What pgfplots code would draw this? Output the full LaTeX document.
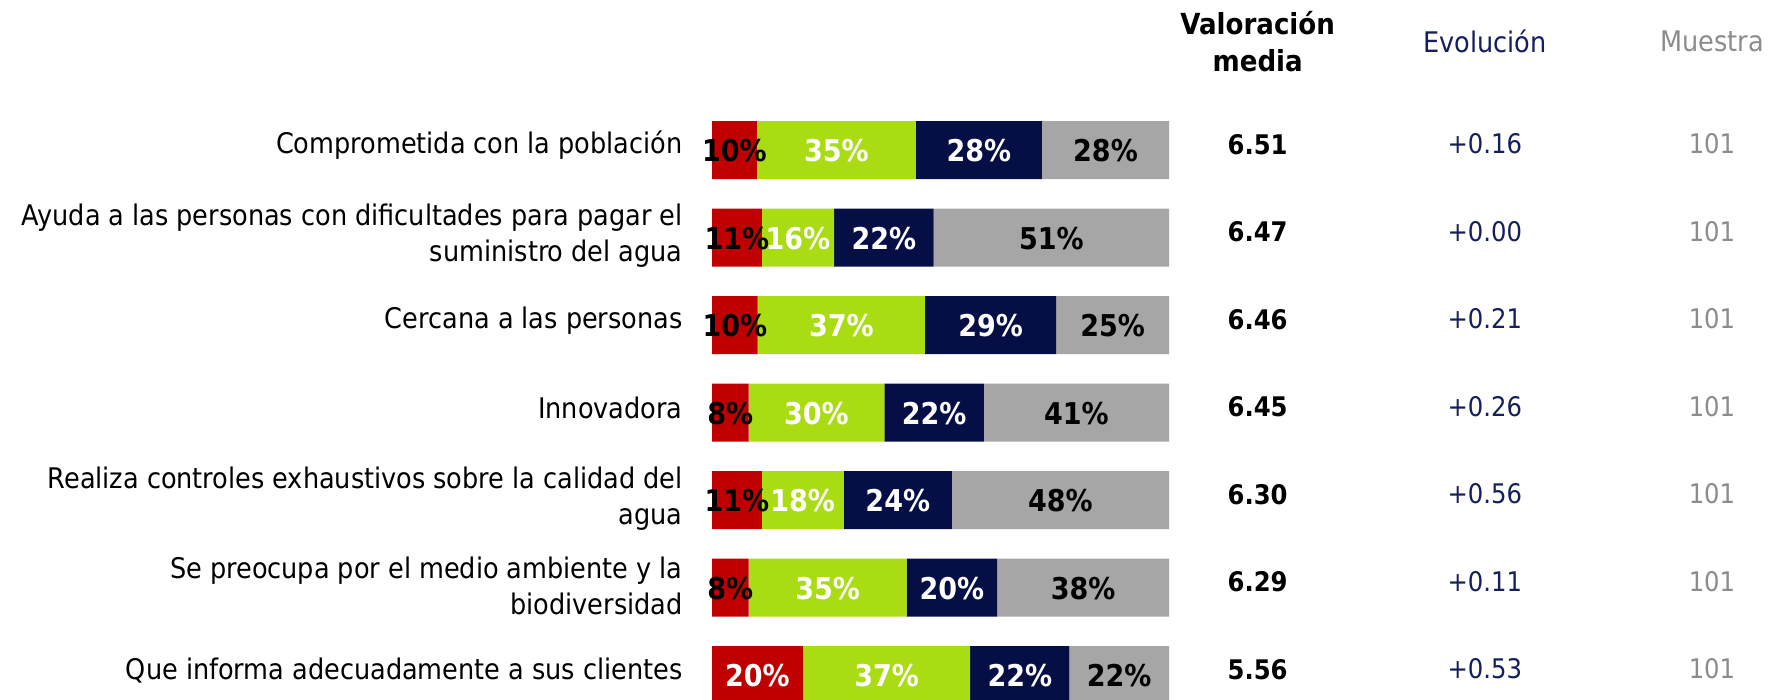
\documentclass[border=0pt]{standalone}
\usepackage{pgfplots}
\pgfplotsset{compat=1.18}
\usepackage{pgfplotstable}
\usepackage{fontspec}
\setmainfont{DejaVu Sans Condensed}
\definecolor{cred}{HTML}{C00000}
\definecolor{cgreen}{HTML}{AADC14}
\definecolor{cnavy}{HTML}{050F45}
\definecolor{cgray}{HTML}{A6A6A6}
\definecolor{evo}{HTML}{14205A}
\definecolor{mue}{HTML}{8C8C8C}

\pgfplotstableread{
y a    b    c    d    la lb lc ld val  evo   n
0 9.8  34.8 27.6 27.8 10 35 28 28 6.51 +0.16 101
1 10.9 15.8 21.8 51.5 11 16 22 51 6.47 +0.00 101
2 10.0 36.6 28.7 24.7 10 37 29 25 6.46 +0.21 101
3 8.0  29.7 21.8 40.5 8  30 22 41 6.45 +0.26 101
4 10.9 17.9 23.7 47.5 11 18 24 48 6.30 +0.56 101
5 8.0  34.6 19.8 37.6 8  35 20 38 6.29 +0.11 101
6 19.9 36.6 21.7 21.8 20 37 22 22 5.56 +0.53 101
}\data

\newcommand\lblfont{\fontsize{14.2}{18}\selectfont}
\newcommand\colfont{\fontsize{13.5}{18}\selectfont}
\newcommand\colhead{\fontsize{14.2}{18}\selectfont}
\newcommand\valfont{\fontsize{13.5}{17}\selectfont\bfseries}
\newcommand\barfont{\fontsize{15}{17}\selectfont\bfseries}

\begin{document}
\begin{tikzpicture}[x=1pt,y=1pt]
\useasboundingbox (0,0) rectangle (887.5,-350);
\pgfplotsset{
  common/.style={
    at={(356pt,-75pt)}, anchor=origin,
    scale only axis, width=228.5pt, height=393.75pt,
    xmin=0, xmax=100, ymin=-2, ymax=7, y dir=reverse,
    axis line style={draw=none}, major tick length=0pt,
    xtick=\empty,
  }
}
\begin{axis}[common,
  xbar stacked, bar width=29pt,
  ytick={0,...,6},
  yticklabels={Comprometida con la población,
    {Ayuda a las personas con dificultades para pagar el\\suministro del agua},
    Cercana a las personas,
    Innovadora,
    {Realiza controles exhaustivos sobre la calidad del\\agua},
    {Se preocupa por el medio ambiente y la\\biodiversidad},
    Que informa adecuadamente a sus clientes},
  yticklabel style={align=right, font=\lblfont, inner sep=0pt, xshift=-14.5pt, anchor=east,
    yshift={((\ticknum==1) || (\ticknum==4) || (\ticknum==5)) ? 0.9 : 2.3}},
]
\addplot[fill=cred, draw=none] table[x=a, y=y] {\data};
\addplot[fill=cgreen, draw=none] table[x=b, y=y] {\data};
\addplot[fill=cnavy, draw=none] table[x=c, y=y] {\data};
\addplot[fill=cgray, draw=none] table[x=d, y=y] {\data};
\end{axis}

\begin{axis}[common, hide axis, clip=false,
  point meta=explicit symbolic,
  nodes near coords align={center},
]
% red labels
\addplot[only marks, mark=none, y filter/.expression={y==6 ? nan : y},
  nodes near coords={\pgfplotspointmeta\%},
  every node near coord/.append style={font=\barfont, text=black, anchor=center, yshift=-0.5pt}]
  table[x expr=\thisrow{a}/2, y=y, meta=la] {\data};
\addplot[only marks, mark=none, y filter/.expression={y==6 ? y : nan},
  nodes near coords={\pgfplotspointmeta\%},
  every node near coord/.append style={font=\barfont, text=white, anchor=center, yshift=-0.5pt}]
  table[x expr=\thisrow{a}/2, y=y, meta=la] {\data};
% green labels
\addplot[only marks, mark=none,
  nodes near coords={\pgfplotspointmeta\%},
  every node near coord/.append style={font=\barfont, text=white, anchor=center, yshift=-0.5pt}]
  table[x expr=\thisrow{a}+\thisrow{b}/2, y=y, meta=lb] {\data};
% navy labels
\addplot[only marks, mark=none,
  nodes near coords={\pgfplotspointmeta\%},
  every node near coord/.append style={font=\barfont, text=white, anchor=center, yshift=-0.5pt}]
  table[x expr=\thisrow{a}+\thisrow{b}+\thisrow{c}/2, y=y, meta=lc] {\data};
% gray labels
\addplot[only marks, mark=none,
  nodes near coords={\pgfplotspointmeta\%},
  every node near coord/.append style={font=\barfont, text=black, anchor=center, yshift=-0.5pt}]
  table[x expr=\thisrow{a}+\thisrow{b}+\thisrow{c}+\thisrow{d}/2, y=y, meta=ld] {\data};
% value columns
\addplot[only marks, mark=none,
  nodes near coords={\pgfplotspointmeta},
  every node near coord/.append style={font=\valfont, text=black, anchor=center, yshift=2.8pt}]
  table[x expr=119.4, y=y, meta=val] {\data};
\addplot[only marks, mark=none,
  nodes near coords={\pgfplotspointmeta},
  every node near coord/.append style={font=\colfont, text=evo, anchor=center, yshift=3pt}]
  table[x expr=169.1, y=y, meta=evo] {\data};
\addplot[only marks, mark=none,
  nodes near coords={\pgfplotspointmeta},
  every node near coord/.append style={font=\colfont, text=mue, anchor=center, yshift=3pt}]
  table[x expr=218.8, y=y, meta=n] {\data};
% headers
\node[font=\fontsize{14.5}{18.5}\selectfont\bfseries, align=center] at (axis cs:119.4,-1.24) {Valoración\\media};
\node[font=\colhead, text=evo] at (axis cs:169.1,-1.24) {Evolución};
\node[font=\colhead, text=mue] at (axis cs:218.8,-1.24) {Muestra};
\end{axis}
\end{tikzpicture}
\end{document}
